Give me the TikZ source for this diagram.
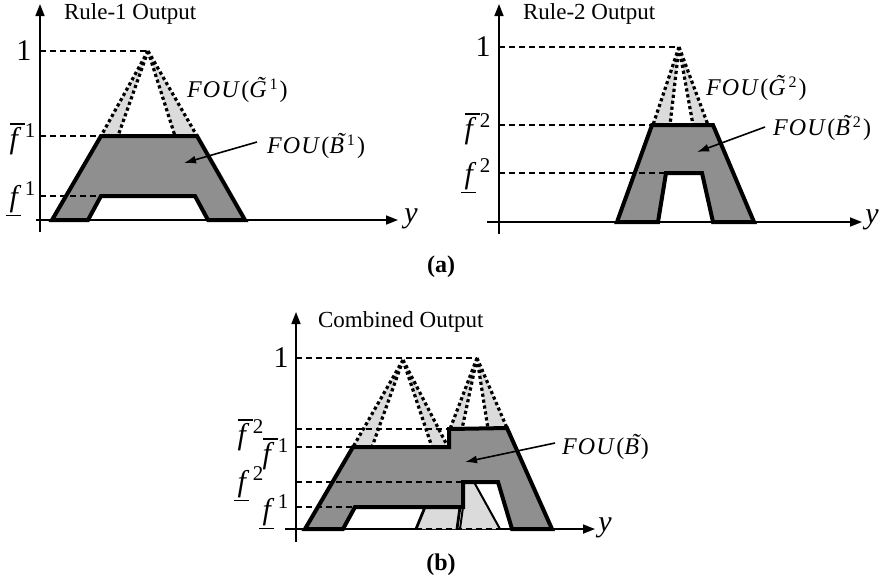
\documentclass[tikz,border=0pt]{standalone}
\usepackage{fontspec}
\setmainfont{Liberation Serif}
\usetikzlibrary{arrows.meta}
\definecolor{foudark}{RGB}{143,143,143}
\definecolor{foulight}{RGB}{219,219,219}
\newcommand{\tld}[1]{\textit{\makebox[0pt][l]{\kern0.3em\raisebox{0.2em}{\char"02DC}}#1}}
\newcommand{\fou}[2]{\textit{F\kern0.05em O\kern0.05em U}\kern0.05em(\tld{#1}\kern0.12em\textsuperscript{#2}\kern0.05em)}
\newcommand{\fup}[1]{\rlap{\kern0.02em\rule[0.78em]{0.5em}{0.045em}}\textit{f}\kern0.12em\textsuperscript{#1}}
\newcommand{\flo}[1]{\rlap{\kern-0.12em\rule[-0.34em]{0.5em}{0.045em}}\textit{f}\kern0.12em\textsuperscript{#1}}
\tikzset{
    myaxis/.style={
        line width=0.8pt,
        -{Triangle[length=6pt,width=4.5pt]}
    },
    myguide/.style={
        line width=0.7pt,
        dash pattern=on 3pt off 2pt
    },
    myfou/.style={
        draw,
        fill=foudark,
        line width=2pt
    },
    mydots/.style={
        line width=1.6pt,
        dash pattern=on 1.6pt off 1.4pt
    },
    mygap/.style={
        fill=foulight
    }
}

\begin{document}
\begin{tikzpicture}[
    x=0.5pt,y=-0.5pt,
    mytitle/.style={anchor=west, font=\fontsize{11.5}{13}\selectfont},
    mylevel/.style={font=\fontsize{15}{17}\selectfont},
    mylabel/.style={anchor=west, font=\fontsize{12}{14}\selectfont},
    myarrow/.style={-{Latex[length=6pt,width=4pt]}, line width=0.8pt},
    mycap/.style={font=\bfseries\fontsize{12}{14}\selectfont}
]
\useasboundingbox (0,0) rectangle (882,586);

% ---------- (a) rule 1 ----------
\draw[myaxis] (40,232) -- (40,4);
\draw[myaxis] (36,220) -- (398,220);
\node[mytitle] (title1) at (57,14) {Rule-1 Output};
\node[mylevel] (yone) at (411,219) {\itshape y};

\coordinate (pk1) at (148,51);
\fill[mygap] (pk1) -- (101,136) -- (118,136) -- cycle;
\fill[mygap] (pk1) -- (175,136) -- (197,136) -- cycle;
\draw[myfou] (52,220) -- (101,136) -- (197,136) -- (245,220) -- (208,220)
    -- (195,196) -- (101,196) -- (88,220) -- cycle;
\draw[mydots] (pk1) -- (101,136) (pk1) -- (118,136)
    (pk1) -- (175,136) (pk1) -- (197,136);

% levels
\draw[myguide] (40,51) -- (pk1);
\draw[myguide] (40,136) -- (101,136);
\draw[myguide] (40,196) -- (101,196);
\node[mylevel] (one1) at (24,51) {1};
\node[mylevel] (up1) at (23,139) {\fup{1}};
\node[mylevel] (lo1) at (23,199) {\flo{1}};

\node[mylabel] (fouG1) at (180,90) {\fou{G}{1}};
\node[mylabel] (fouB1) at (260,146) {\fou{B}{1}};
\coordinate (tipB1) at (184,163);
\draw[myarrow] (fouB1.west) ++(-3,-4) -- (tipB1);

% ---------- (a) rule 2 ----------
\draw[myaxis] (499,234) -- (499,4);
\draw[myaxis] (487,222) -- (862,222);
\node[mytitle] (title2) at (516,14) {Rule-2 Output};
\node[mylevel] (ytwo) at (872,220) {\itshape y};

\coordinate (pk2) at (679,47);
\fill[mygap] (pk2) -- (653,125) -- (670,125) -- cycle;
\fill[mygap] (pk2) -- (693,125) -- (708,125) -- cycle;
\draw[myfou] (617,222) -- (652,125) -- (713,125) -- (754,222) -- (713,222)
    -- (702,173) -- (666,173) -- (658,222) -- cycle;
\draw[mydots] (pk2) -- (653,125) (pk2) -- (670,125)
    (pk2) -- (693,125) (pk2) -- (708,125);

% levels
\draw[myguide] (499,47) -- (pk2);
\draw[myguide] (499,125) -- (652,125);
\draw[myguide] (499,173) -- (666,173);
\node[mylevel] (one2) at (483,47) {1};
\node[mylevel] (up2) at (478,129) {\fup{2}};
\node[mylevel] (lo2) at (478,176) {\flo{2}};

\node[mylabel] (fouG2) at (699,88) {\fou{G}{2}};
\node[mylabel] (fouB2) at (766,128) {\fou{B}{2}};
\coordinate (tipB2) at (697,152);
\draw[myarrow] (fouB2.west) ++(-1,-1) -- (tipB2);

\node[mycap] (capa) at (441,267) {(a)};

% ---------- (b) combined ----------
\draw[myaxis] (296,542) -- (296,312);
\draw[myaxis] (285,529) -- (595,529);
\node[mytitle] (title3) at (311,322) {Combined Output};
\node[mylevel] (ythree) at (605,528) {\itshape y};

\coordinate (pk3) at (403,360);
\coordinate (pk4) at (477,358);
\fill[mygap] (pk3) -- (353,447) -- (372,447) -- cycle;
\fill[mygap] (pk3) -- (432,447) -- (448,447) -- cycle;
\fill[mygap] (pk4) -- (450,429) -- (462,429) -- cycle;
\fill[mygap] (pk4) -- (488,429) -- (507,428) -- cycle;

% light parts under the step
\fill[mygap] (416,529) -- (425,507) -- (460,507) -- (457,529) -- cycle;
\fill[mygap] (460,529) -- (463,482) -- (474,482) -- (500,529) -- cycle;
\draw[line width=1.4pt] (416,529) -- (425,507) (460,507) -- (457,529);
\draw[line width=1pt] (463,507) -- (460,529) (474,482) -- (500,529);
\draw[myguide] (416,529) -- (500,529);

\draw[myfou] (305,529) -- (353,447) -- (449,447) -- (449,429) -- (507,428)
    -- (552,529) -- (512,529) -- (498,482) -- (463,482) -- (463,507)
    -- (355,507) -- (343,529) -- cycle;
\draw[mydots] (pk3) -- (353,447) (pk3) -- (372,447)
    (pk3) -- (432,447) (pk3) -- (448,447);
\draw[mydots] (pk4) -- (450,429) (pk4) -- (462,429)
    (pk4) -- (488,429) (pk4) -- (507,428);

% levels
\draw[myguide] (296,358) -- (pk4);
\draw[myguide] (296,429) -- (449,429);
\draw[myguide] (296,447) -- (353,447);
\draw[myguide] (296,482) -- (463,482);
\draw[myguide] (296,507) -- (355,507);
\node[mylevel] (one3) at (281,358) {1};
\node[mylevel] (up4) at (251,435) {\fup{2}};
\node[mylevel] (up3) at (276,454) {\fup{1}};
\node[mylevel] (lo4) at (251,484) {\flo{2}};
\node[mylevel] (lo3) at (276,512) {\flo{1}};

\node[mylabel] (fouB) at (555,447)
    {\textit{F\kern0.05em O\kern0.05em U}\kern0.05em(\tld{B}\kern0.08em)};
\coordinate (tipB) at (465,462);
\draw[myarrow] (fouB.west) ++(0,-4) -- (tipB);

\node[mycap] (capb) at (441,565) {(b)};

\end{tikzpicture}
\end{document}
